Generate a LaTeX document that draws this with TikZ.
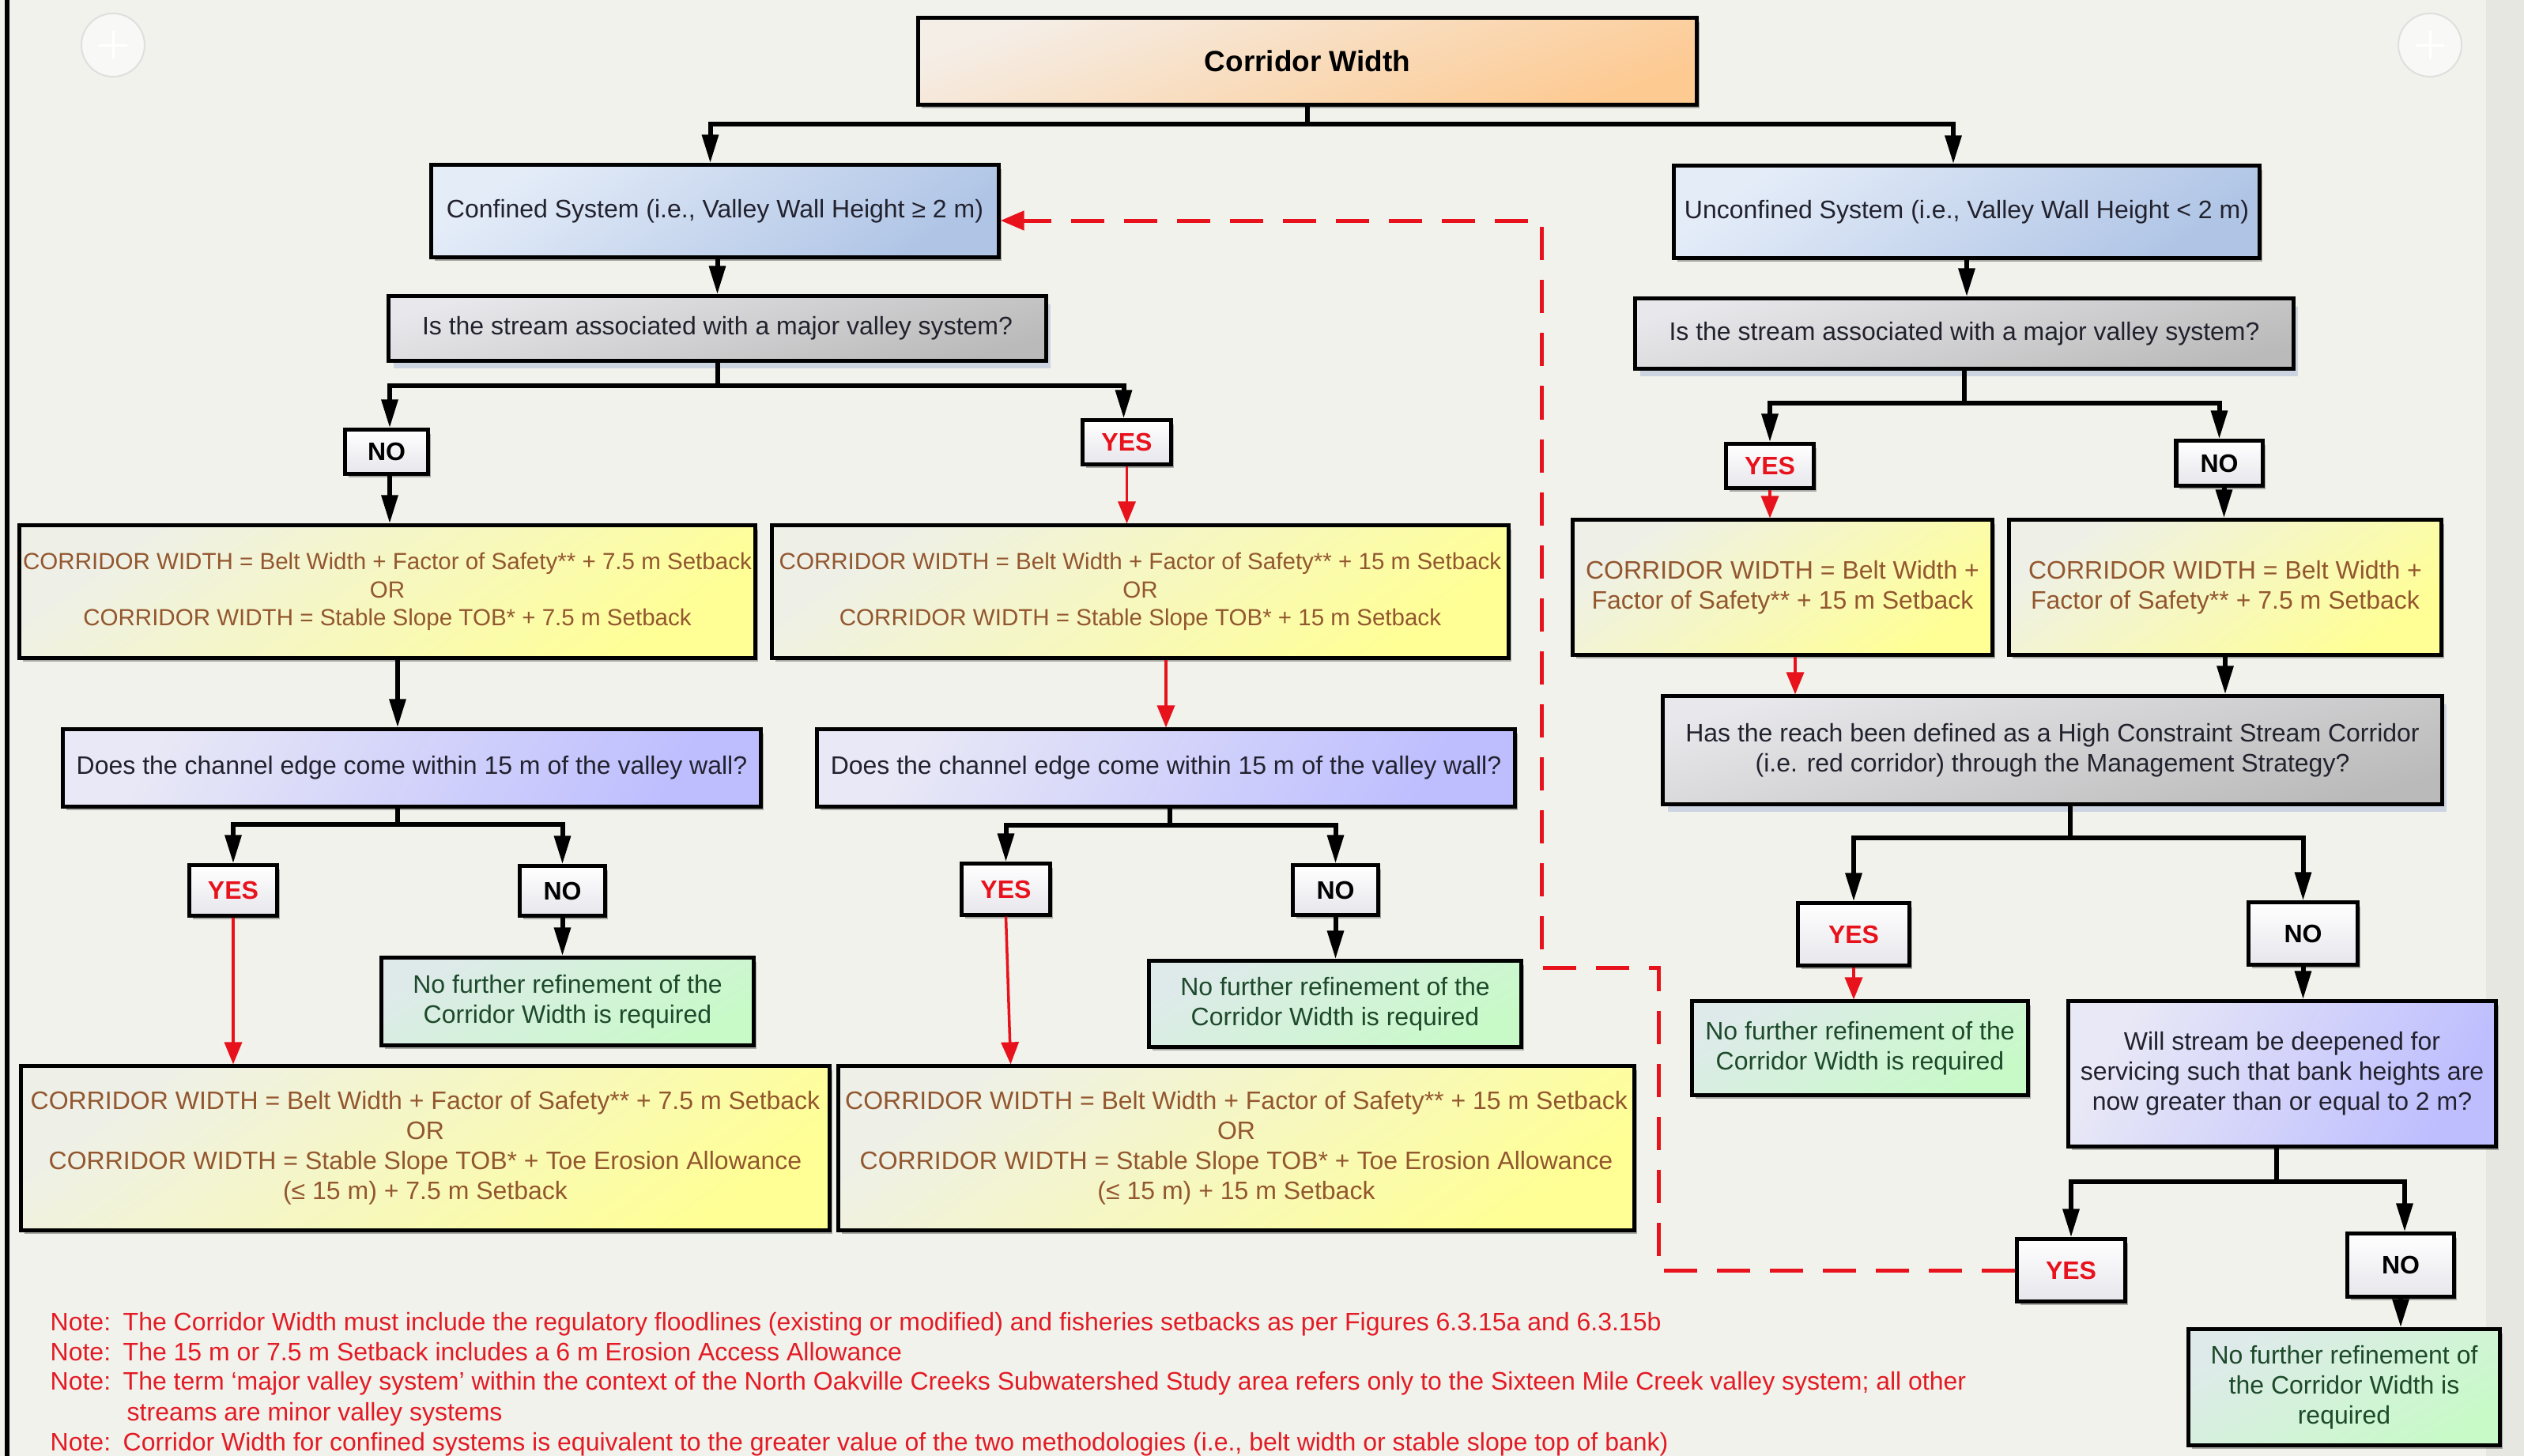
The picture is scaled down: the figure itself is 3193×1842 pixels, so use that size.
\documentclass[tikz,border=0pt]{standalone}
\usepackage{fontspec}
\setmainfont{Liberation Sans}
\usetikzlibrary{arrows.meta,shadows,calc}
\definecolor{bgc}{HTML}{F1F2EC}
\definecolor{bgr}{HTML}{E6E7E1}
\definecolor{rc}{HTML}{E8121C}
\definecolor{notec}{HTML}{E31B25}
\definecolor{brownt}{HTML}{93572F}
\definecolor{greent}{HTML}{1D4A2A}
\definecolor{darkt}{HTML}{22222E}
\newcommand{\fsA}{\fontsize{9.1pt}{10.8pt}\selectfont}
\newcommand{\fsY}{\fontsize{8.4pt}{10.1pt}\selectfont}
\newcommand{\fsT}{\fontsize{10.5pt}{12pt}\selectfont\bfseries}
\newcommand{\fsN}{\fontsize{9.1pt}{10.8pt}\selectfont}
\tikzset{
  box/.style={draw=black, line width=0.05cm, align=center, inner sep=0pt, font=\fsA,
    drop shadow={shadow xshift=0.04cm, shadow yshift=-0.05cm, fill=black, opacity=0.3}},
  titlebox/.style={box, font=\fsT, top color=orange!6!white!92!gray, bottom color={rgb,255:red,253;green,202;blue,146}, shading angle=20},
  bluebox/.style={box, text=darkt, top color={rgb,255:red,228;green,236;blue,248}, bottom color={rgb,255:red,176;green,197;blue,230}, shading angle=35},
  graybox/.style={draw=black, line width=0.05cm, align=center, inner sep=0pt, font=\fsA, text=darkt,
    drop shadow={shadow xshift=0.06cm, shadow yshift=-0.1cm, fill={rgb,255:red,180;green,192;blue,220}, opacity=0.6},
    top color={rgb,255:red,232;green,232;blue,236}, bottom color={rgb,255:red,186;green,186;blue,186}, shading angle=15},
  yelbox/.style={box, text=brownt, top color={rgb,255:red,238;green,240;blue,232}, bottom color={rgb,255:red,255;green,255;blue,150}, shading angle=35},
  lavbox/.style={box, text=darkt, top color={rgb,255:red,232;green,232;blue,246}, bottom color={rgb,255:red,190;green,190;blue,255}, shading angle=60},
  grnbox/.style={box, text=greent, top color={rgb,255:red,222;green,234;blue,234}, bottom color={rgb,255:red,200;green,250;blue,200}, shading angle=30},
  ynbox/.style={box, font=\fsA\bfseries, top color=white, bottom color={rgb,255:red,230;green,230;blue,236}},
  yesbox/.style={ynbox, text=rc},
  nobox/.style={ynbox, text=black},
  bl/.style={line width=0.06cm, draw=black},
  blk/.style={bl, -{Triangle[length=0.36cm,width=0.2cm]}},
  rarr/.style={draw=rc, line width=0.035cm, -{Triangle[length=0.28cm,width=0.22cm]}},
  rdash/.style={draw=rc, line width=0.05cm, dash pattern=on 0.42cm off 0.25cm, -{Triangle[length=0.3cm,width=0.24cm]}},
  notet/.style={font=\fsN, text=notec, inner sep=0pt, anchor=base west}
}
\begin{document}
\begin{tikzpicture}[x=0.01cm,y=-0.01cm]
\useasboundingbox (0,0) rectangle (3193,1842);
\fill[bgc] (0,0) rectangle (3193,1842);
\fill[bgr] (3145,0) rectangle (3193,1842);
\draw[line width=0.05cm] (9,0) -- (9,1842);
% faint decorative circles
\foreach \cx in {143,3074}{
  \fill[white, opacity=0.55] (\cx,57) circle (40);
  \draw[gray!25, line width=0.02cm] (\cx,57) circle (40);
  \draw[white, line width=0.03cm] (\cx-18,57) -- (\cx+18,57) (\cx,39) -- (\cx,75);
}

% ---------- nodes ----------
\node[titlebox, minimum width=9.84cm, minimum height=1.09cm] (title) at (1654,77.5) {Corridor Width};
\node[bluebox, minimum width=7.17cm, minimum height=1.16cm] (conf) at (904.5,267) {Confined System (i.e., Valley Wall Height ≥ 2 m)};
\node[bluebox, minimum width=7.40cm, minimum height=1.16cm] (unconf) at (2488,268) {Unconfined System (i.e., Valley Wall Height < 2 m)};
\node[graybox, minimum width=8.31cm, minimum height=0.81cm] (q1) at (907.5,415.5) {Is the stream associated with a major valley system?};
\node[graybox, minimum width=8.32cm, minimum height=0.88cm] (q2) at (2485,422) {Is the stream associated with a major valley system?};

\node[nobox, minimum width=1.04cm, minimum height=0.55cm] (no1) at (489,571.5) {NO};
\node[yesbox, minimum width=1.11cm, minimum height=0.55cm] (yes1) at (1425.5,559.5) {YES};

\node[yelbox, font=\fsY, minimum width=9.30cm, minimum height=1.67cm] (a1) at (490,748.5)
  {CORRIDOR WIDTH = Belt Width + Factor of Safety** + 7.5 m Setback\\OR\\CORRIDOR WIDTH = Stable Slope TOB* + 7.5 m Setback};
\node[yelbox, font=\fsY, minimum width=9.31cm, minimum height=1.67cm] (a2) at (1442.5,748.5)
  {CORRIDOR WIDTH = Belt Width + Factor of Safety** + 15 m Setback\\OR\\CORRIDOR WIDTH = Stable Slope TOB* + 15 m Setback};

\node[lavbox, minimum width=8.82cm, minimum height=0.97cm] (b1) at (521,971.5) {Does the channel edge come within 15 m of the valley wall?};
\node[lavbox, minimum width=8.82cm, minimum height=0.97cm] (b2) at (1475,971.5) {Does the channel edge come within 15 m of the valley wall?};

\node[yesbox, minimum width=1.10cm, minimum height=0.63cm] (yes2) at (295,1126.5) {YES};
\node[nobox, minimum width=1.07cm, minimum height=0.62cm] (no2) at (711.5,1127) {NO};
\node[yesbox, minimum width=1.11cm, minimum height=0.64cm] (yes3) at (1272.5,1125) {YES};
\node[nobox, minimum width=1.07cm, minimum height=0.62cm] (no3) at (1689.5,1126) {NO};

\node[grnbox, minimum width=4.70cm, minimum height=1.10cm] (c1) at (718,1267) {No further refinement of the\\Corridor Width is required};
\node[grnbox, minimum width=4.70cm, minimum height=1.08cm] (c2) at (1689,1270) {No further refinement of the\\Corridor Width is required};

\node[yelbox, minimum width=10.22cm, minimum height=2.07cm] (d1) at (538,1452.5)
  {CORRIDOR WIDTH = Belt Width + Factor of Safety** + 7.5 m Setback\\OR\\CORRIDOR WIDTH = Stable Slope TOB* + Toe Erosion Allowance\\(≤ 15 m) + 7.5 m Setback};
\node[yelbox, minimum width=10.06cm, minimum height=2.07cm] (d2) at (1564,1452.5)
  {CORRIDOR WIDTH = Belt Width + Factor of Safety** + 15 m Setback\\OR\\CORRIDOR WIDTH = Stable Slope TOB* + Toe Erosion Allowance\\(≤ 15 m) + 15 m Setback};

\node[yesbox, minimum width=1.10cm, minimum height=0.55cm] (yes4) at (2239,589.5) {YES};
\node[nobox, minimum width=1.09cm, minimum height=0.56cm] (no4) at (2807.5,586) {NO};

\node[yelbox, minimum width=5.30cm, minimum height=1.70cm] (e1) at (2255,743) {CORRIDOR WIDTH = Belt Width +\\Factor of Safety** + 15 m Setback};
\node[yelbox, minimum width=5.46cm, minimum height=1.70cm] (e2) at (2815,743) {CORRIDOR WIDTH = Belt Width +\\Factor of Safety** + 7.5 m Setback};

\node[graybox, minimum width=9.85cm, minimum height=1.36cm] (f) at (2596.5,949)
  {Has the reach been defined as a High Constraint Stream Corridor\\(i.e. red corridor) through the Management Strategy?};

\node[yesbox, minimum width=1.40cm, minimum height=0.78cm] (yes5) at (2345,1182) {YES};
\node[nobox, minimum width=1.37cm, minimum height=0.78cm] (no5) at (2913.5,1181) {NO};

\node[grnbox, minimum width=4.24cm, minimum height=1.18cm] (g1) at (2353,1326) {No further refinement of the\\Corridor Width is required};
\node[lavbox, minimum width=5.40cm, minimum height=1.83cm] (h) at (2887,1358.5)
  {Will stream be deepened for\\servicing such that bank heights are\\now greater than or equal to 2 m?};

\node[yesbox, minimum width=1.36cm, minimum height=0.78cm] (yes6) at (2620,1607) {YES};
\node[nobox, minimum width=1.34cm, minimum height=0.79cm] (no6) at (3037,1600.5) {NO};
\node[grnbox, minimum width=3.93cm, minimum height=1.46cm] (g2) at (2965.5,1755) {No further refinement of\\the Corridor Width is\\required};

% ---------- helper coordinates ----------
\coordinate (ys157) at (0,157);
\coordinate (ys488) at (0,488);
\coordinate (ys1043) at (0,1043);
\coordinate (ys1044) at (0,1044);
\coordinate (ys510) at (0,510);
\coordinate (ys1060) at (0,1060);
\coordinate (ys1495) at (0,1495);
\coordinate (confN) at ($(conf.north)+(-6,0)$);
\coordinate (unconfN) at ($(unconf.north)+(-17,0)$);
\coordinate (confS) at ($(conf.south)+(3,0)$);
\coordinate (no1N) at ($(no1.north)+(4,0)$);
\coordinate (no1S) at ($(no1.south)+(4,0)$);
\coordinate (yes1N) at ($(yes1.north)+(-4,0)$);
\coordinate (a1S) at ($(a1.south)+(13,0)$);
\coordinate (b1S) at ($(b1.south)+(-18,0)$);
\coordinate (b2S) at ($(b2.south)+(5,0)$);
\coordinate (no4S) at ($(no4.south)+(6,0)$);
\coordinate (e1S) at ($(e1.south)+(16,0)$);
\coordinate (fS) at ($(f.south)+(22,0)$);
\coordinate (hS) at ($(h.south)+(-7,0)$);
\coordinate (no6N) at ($(no6.north)+(5,0)$);
\coordinate (y3top) at (yes3.south |- d2.north);
\coordinate (y3end) at ($(y3top)+(6,0)$);

% ---------- connectors ----------
% title branch
\coordinate (tj) at (title.south |- ys157);
\draw[bl] (title.south) -- (tj);
\draw[blk] (tj) -| (confN);
\draw[blk] (tj) -| (unconfN);
\draw[blk] (confS) -- (confS |- q1.north);
\draw[blk] (unconf.south) -- (unconf.south |- q2.north);

% q1 branch
\coordinate (q1j) at (q1.south |- ys488);
\draw[bl] (q1.south) -- (q1j);
\draw[blk] (q1j) -| (no1N);
\draw[blk] (q1j) -| (yes1N);
\draw[blk] (no1S) -- (no1S |- a1.north);
\draw[rarr] (yes1.south) -- (yes1.south |- a2.north);
\draw[blk] (a1S) -- (a1S |- b1.north);
\draw[rarr] (a2.south -| b2.north) -- (b2.north);

% b1 branch
\coordinate (b1j) at (b1S |- ys1043);
\draw[bl] (b1S) -- (b1j);
\draw[blk] (b1j) -| (yes2.north);
\draw[blk] (b1j) -| (no2.north);
\draw[blk] (no2.south) -- (no2.south |- c1.north);
\draw[rarr] (yes2.south) -- (yes2.south |- d1.north);

% b2 branch
\coordinate (b2j) at (b2S |- ys1044);
\draw[bl] (b2S) -- (b2j);
\draw[blk] (b2j) -| (yes3.north);
\draw[blk] (b2j) -| (no3.north);
\draw[blk] (no3.south) -- (no3.south |- c2.north);
\draw[rarr] (yes3.south) -- (y3end);

% q2 branch
\coordinate (q2j) at (q2.south |- ys510);
\draw[bl] (q2.south) -- (q2j);
\draw[blk] (q2j) -| (yes4.north);
\draw[blk] (q2j) -| (no4.north);
\draw[rarr] (yes4.south) -- (yes4.south |- e1.north);
\draw[blk] (no4S) -- (no4S |- e2.north);
\draw[rarr] (e1S) -- (e1S |- f.north);
\draw[blk] (e2.south) -- (e2.south |- f.north);

% f branch
\coordinate (fj) at (fS |- ys1060);
\draw[bl] (fS) -- (fj);
\draw[blk] (fj) -| (yes5.north);
\draw[blk] (fj) -| (no5.north);
\draw[rarr] (yes5.south) -- (yes5.south |- g1.north);
\draw[blk] (no5.south) -- (no5.south |- h.north);

% h branch
\coordinate (hj) at (hS |- ys1495);
\draw[bl] (hS) -- (hj);
\draw[blk] (hj) -| (yes6.north);
\draw[blk] (hj) -| (no6N);
\draw[blk] (no6.south) -- (no6.south |- g2.north);

% dashed feedback
\coordinate (dk1) at (2098,1224);
\coordinate (dk2) at (1950,279);
\draw[rdash] (yes6.west) -| (dk1) -| (dk2) -- (conf.east |- dk2);

% ---------- notes ----------
\node[notet] (n1) at (63,1683) {Note:};
\node[notet] (n1t) at (155,1683) {The Corridor Width must include the regulatory floodlines (existing or modified) and fisheries setbacks as per Figures 6.3.15a and 6.3.15b};
\node[notet] (n2) at (63,1721) {Note:};
\node[notet] (n2t) at (155,1721) {The 15 m or 7.5 m Setback includes a 6 m Erosion Access Allowance};
\node[notet] (n3) at (63,1758) {Note:};
\node[notet] (n3t) at (155,1758) {The term ‘major valley system’ within the context of the North Oakville Creeks Subwatershed Study area refers only to the Sixteen Mile Creek valley system; all other};
\node[notet] (n3c) at (160,1797) {streams are minor valley systems};
\node[notet] (n4) at (63,1835) {Note:};
\node[notet] (n4t) at (155,1835) {Corridor Width for confined systems is equivalent to the greater value of the two methodologies (i.e., belt width or stable slope top of bank)};
\end{tikzpicture}
\end{document}
